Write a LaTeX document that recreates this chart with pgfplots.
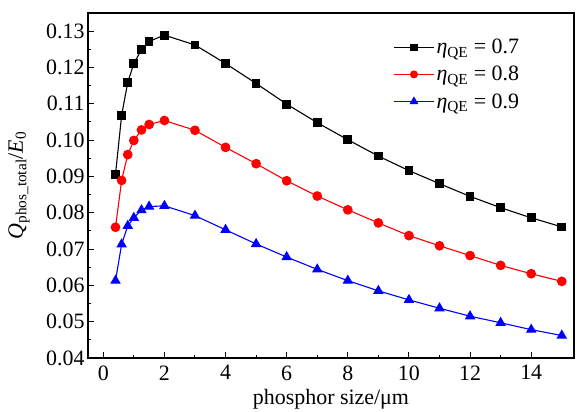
\documentclass[border=0pt]{standalone}
\usepackage{fontspec}
\setmainfont{Liberation Serif}
\usepackage{pgfplots}
\pgfplotsset{compat=1.18}
\pgfplotstableread{
x     a       b       c
0.4   0.0906  0.0760  0.0613
0.6   0.1068  0.0889  0.0713
0.8   0.1159  0.0960  0.0764
1.0   0.1211  0.0999  0.0786
1.25  0.1249  0.1028  0.0807
1.5   0.1272  0.1043  0.0817
2     0.1289  0.1054  0.0819
3     0.1262  0.1027  0.0792
4     0.1211  0.0980  0.0753
5     0.1156  0.0935  0.0714
6     0.1099  0.0888  0.0678
7     0.1048  0.0846  0.0644
8     0.1001  0.0808  0.0613
9     0.0956  0.0772  0.0585
10    0.0916  0.0737  0.0560
11    0.0880  0.0709  0.0537
12    0.0845  0.0682  0.0515
13    0.0814  0.0655  0.0497
14    0.0786  0.0632  0.0478
15    0.0761  0.0611  0.0462
}\datatable
\begin{document}
\begin{tikzpicture}
\begin{axis}[
  scale only axis, width=486bp, height=345bp,
  xmin=-0.5, xmax=15.4, ymin=0.04, ymax=0.135,
  xtick={0,2,4,6,8,10,12,14}, minor x tick num=1,
  ytick={0.04,0.05,0.06,0.07,0.08,0.09,0.10,0.11,0.12,0.13}, minor y tick num=1,
  tick align=inside, xtick pos=bottom, ytick pos=left,
  major tick length=6bp, minor tick length=3.5bp,
  every tick/.style={line width=1bp, black},
  axis line style={line width=1.1bp},
  y tick label style={/pgf/number format/.cd, fixed, fixed zerofill, precision=2},
  x tick label style={yshift=-4bp},
  /pgf/number format/assume math mode=true,
  tick label style={font=\fontsize{22}{26}\selectfont},
  label style={font=\fontsize{22}{26}\selectfont},
  xlabel={phosphor size/μm},
  ylabel={\textit{Q}\textsubscript{phos\_total}/\textit{E}\textsubscript{0}},
  xlabel style={at={(axis description cs:0.5,0)}, anchor=center, yshift=-41bp},
  ylabel style={at={(axis description cs:-0.142,0.5)}, anchor=center},
  legend cell align=left,
  legend style={draw=none, fill=none, at={(0.628,0.93)}, anchor=north west,
    font=\fontsize{22}{26}\selectfont, row sep=7bp, inner sep=0bp},
  legend image code/.code={\draw[mark repeat=2,mark phase=2,#1,mark options={scale=0.8}] plot coordinates {(0bp,0bp) (20bp,0bp) (40bp,0bp)};},
]
\addplot[black, line width=1.1bp, mark=square*, mark size=3.8bp] table[x=x,y=a] {\datatable};
\addlegendentry{\textit{η}\textsubscript{QE} = 0.7}
\addplot[red, line width=1.1bp, mark=*, mark size=4.3bp] table[x=x,y=b] {\datatable};
\addlegendentry{\textit{η}\textsubscript{QE} = 0.8}
\addplot[blue, line width=1.1bp, mark=triangle*, mark size=5bp] table[x=x,y=c] {\datatable};
\addlegendentry{\textit{η}\textsubscript{QE} = 0.9}
\end{axis}
\pgfresetboundingbox
\path ([shift={(-88bp,-54bp)}]current axis.south west) rectangle ([shift={(3bp,13bp)}]current axis.north east);
\end{tikzpicture}
\end{document}
